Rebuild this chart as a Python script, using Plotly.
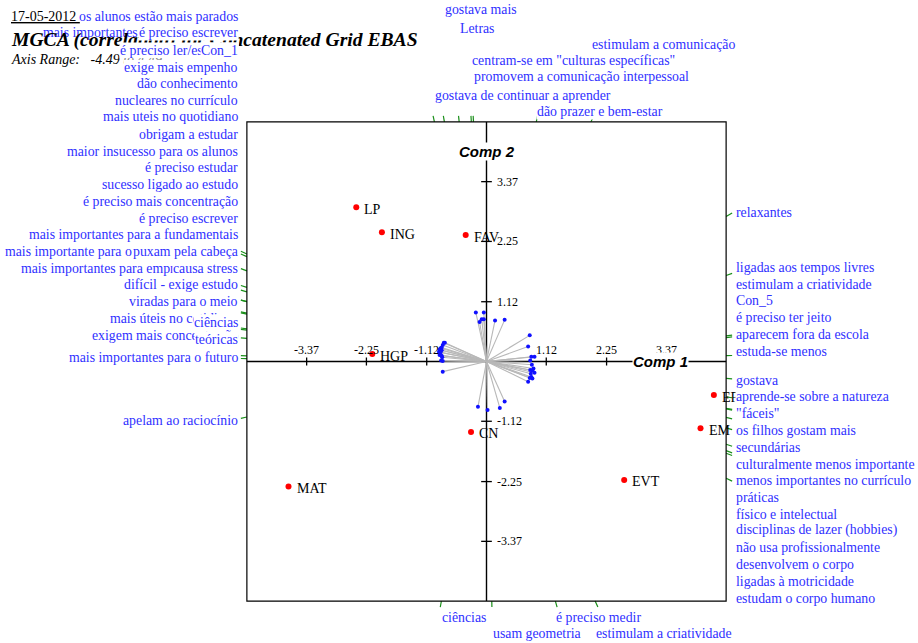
import plotly.graph_objects as go

# ---------------- data ----------------
element_names = ["LP", "ING", "FAV", "HGP", "CN", "MAT", "EVT", "EF", "EM"]
element_x = [-2.44, -1.96, -0.39, -2.14, -0.29, -3.71, 2.58, 4.26, 4.01]
element_y = [2.89, 2.42, 2.37, 0.14, -1.32, -2.34, -2.22, -0.63, -1.25]

# construct loadings (top group, bottom group, left group, right group)
top_x = [-0.20, -0.13, -0.09, -0.05, -0.05, 0.16, 0.34]
top_y = [0.92, 0.74, 0.79, 0.79, 0.92, 0.77, 0.78]
top_labels = ["gostava de continuar a aprender", "gostava mais", "Letras",
              "centram-se em \"culturas específicas\"", "promovem a comunicação interpessoal",
              "dão prazer e bem-estar", "estimulam a comunicação"]

bottom_x = [-0.16, 0.02, 0.25, 0.34]
bottom_y = [-0.85, -0.91, -0.87, -0.75]
bottom_labels = ["ciências", "usam geometria", "é preciso medir", "estimulam a criatividade"]

left_x = [-0.78, -0.80, -0.82, -0.84, -0.86, -0.88, -0.84, -0.89, -0.86, -0.88, -0.84, -0.83, -0.85, -0.82, -0.82]
left_y = [0.35, 0.35, 0.31, 0.26, 0.25, 0.22, 0.21, 0.18, 0.17, 0.12, 0.11, 0.08, 0.02, 0.01, -0.19]

right_x = [0.81, 0.78, 0.84, 0.90, 0.82, 0.85, 0.88, 0.82, 0.86, 0.90, 0.83, 0.84, 0.86, 0.81, 0.78]
right_y = [0.49, 0.28, 0.09, 0.09, 0.02, -0.06, -0.13, -0.16, -0.17, -0.21, -0.23, -0.29, -0.32, -0.31, -0.38]

left_labels = ["os alunos estão mais parados", "mais importantes para a vida futura",
               "é preciso escrever", "é preciso ler/escrever", "Con_1", "exige mais empenho",
               "dão conhecimento", "nucleares no currículo", "mais uteis no quotidiano",
               "obrigam a estudar", "maior insucesso para os alunos", "é preciso estudar",
               "sucesso ligado ao estudo", "é preciso mais concentração", "é preciso escrever",
               "mais importantes para a sua formação", "fundamentais",
               "mais importante para o futuro profissional", "puxam pela cabeça",
               "mais importantes para empregabilidade", "causa stress", "difícil - exige estudo",
               "viradas para o meio", "mais úteis no cotidiano", "ciências",
               "exigem mais concentração", "teóricas", "mais importantes para o futuro",
               "apelam ao raciocínio"]

right_labels = ["relaxantes", "ligadas aos tempos livres", "estimulam a criatividade", "Con_5",
                "é preciso ter jeito", "aparecem fora da escola", "estuda-se menos", "gostava",
                "aprende-se sobre a natureza", "\"fáceis\"", "os filhos gostam mais", "secundárias",
                "culturalmente menos importante", "menos importantes no currículo", "práticas",
                "físico e intelectual", "disciplinas de lazer (hobbies)", "não usa profissionalmente",
                "desenvolvem o corpo", "ligadas à motricidade", "estudam o corpo humano"]

axis_ticks = [-3.37, -2.25, -1.12, 1.12, 2.25, 3.37]
axis_tick_labels = ["-3.37", "-2.25", "-1.12", "1.12", "2.25", "3.37"]
axis_limit = 4.49

title_text = "MGCA (correlation) for Concatenated Grid EBAS"
range_text = "Axis Range:   -4.49 to 4.49"
date_text = "17-05-2012"

# ---------------- layout (page-pixel rows of the stacked labels) ----------------
top_rows = [95, 10, 28, 61, 77, 111, 44]
bottom_rows = [617, 633, 617, 633]
left_rows = [17, 33, 33, 50, 50, 67, 84, 101, 117, 134, 151, 167, 184, 201, 218, 234, 234,
             251, 251, 268, 268, 284, 301, 318, 322, 335, 339, 357, 420]
right_rows = [212, 267, 284, 300, 317, 334, 351, 380, 396, 413, 430, 447, 464, 480, 497,
              514, 530, 547, 564, 581, 598]

FW, FH = 918, 643            # figure size
ML, MT = 233, 108
PW = PH = 507
MR = FW - ML - PW
MB = FH - MT - PH
R = 4.75


def px(xp):
    return (xp - ML) / PW


def py(yp):
    return (FH - MB - yp) / PH


SERIF = "Liberation Serif"
SANS = "Liberation Sans"
BLUE = "#3030ff"
GREEN = "#1a8f1a"

cx = top_x + bottom_x + left_x + right_x
cy = top_y + bottom_y + left_y + right_y

fig = go.Figure()

# axes through the origin
fig.add_trace(go.Scatter(x=[-axis_limit, axis_limit, None, 0, 0],
                         y=[0, 0, None, -axis_limit, axis_limit],
                         mode="lines", line=dict(color="black", width=1.4),
                         hoverinfo="skip"))
# tick marks
tx, ty = [], []
for t in axis_ticks:
    tx += [t, t, None, -0.1, 0.1, None]
    ty += [-0.075, 0.075, None, t, t, None]
fig.add_trace(go.Scatter(x=tx, y=ty, mode="lines", line=dict(color="black", width=1.3),
                         hoverinfo="skip"))

# grey lines from origin to construct points
lx, ly = [], []
for a, b in zip(cx, cy):
    lx += [0, a, None]
    ly += [0, b, None]
fig.add_trace(go.Scatter(x=lx, y=ly, mode="lines", line=dict(color="#b8b8b8", width=1.1),
                         hoverinfo="skip"))

# green direction marks on the frame
gx, gy = [], []
for a, b in zip(cx, cy):
    t = axis_limit / max(abs(a), abs(b))
    gx += [a * t, a * t * 1.025, None]
    gy += [b * t, b * t * 1.025, None]
fig.add_trace(go.Scatter(x=gx, y=gy, mode="lines", line=dict(color=GREEN, width=1.2),
                         hoverinfo="skip"))

# construct points
fig.add_trace(go.Scatter(x=cx, y=cy, mode="markers",
                         marker=dict(color="#1010ff", size=4), hoverinfo="skip"))
# element points
fig.add_trace(go.Scatter(x=element_x, y=element_y, mode="markers",
                         marker=dict(color="#ff0000", size=6), hoverinfo="skip"))

# frame
fig.add_shape(type="rect", xref="x", yref="y", x0=-axis_limit, x1=axis_limit,
              y0=-axis_limit, y1=axis_limit, line=dict(color="black", width=1.2))

ann = []


def blue_label(text, x, y, xref="paper", xanchor="left"):
    ann.append(dict(text=text, x=x, y=y, xref=xref, yref="paper", xanchor=xanchor,
                    yanchor="middle", showarrow=False, bgcolor="white", borderpad=0,
                    font=dict(family=SERIF, size=13.8, color=BLUE)))


# first two left labels sit below the header text
for i in range(2):
    blue_label(left_labels[i], px(238.5), py(left_rows[i]), xanchor="right")

# header texts
ann.append(dict(text="<b><i>" + title_text + "</i></b>", x=px(9), y=py(40), xref="paper",
                yref="paper", xanchor="left", yanchor="middle", showarrow=False,
                font=dict(family=SERIF, size=19.6, color="black")))
ann.append(dict(text="<i>" + range_text + "</i>", x=px(9), y=py(60), xref="paper",
                yref="paper", xanchor="left", yanchor="middle", showarrow=False,
                font=dict(family=SERIF, size=14, color="black")))
ann.append(dict(text="<u>" + date_text + " </u>", x=px(9), y=py(17), xref="paper",
                yref="paper", xanchor="left", yanchor="middle", showarrow=False,
                font=dict(family=SERIF, size=14, color="black")))

# element labels
for n, a, b in zip(element_names, element_x, element_y):
    ann.append(dict(text=n, x=a, y=b, xref="x", yref="y", xanchor="left", yanchor="middle",
                    xshift=6, yshift=-2, showarrow=False,
                    font=dict(family=SERIF, size=14, color="black")))

# tick labels
for t, lab in zip(axis_ticks, axis_tick_labels):
    ann.append(dict(text=lab, x=t, y=0, xref="x", yref="y", xanchor="center",
                    yanchor="bottom", yshift=3, showarrow=False,
                    font=dict(family=SERIF, size=12, color="black")))
    ann.append(dict(text=lab, x=0, y=t, xref="x", yref="y", xanchor="left",
                    yanchor="middle", xshift=8, showarrow=False,
                    font=dict(family=SERIF, size=12, color="black")))

# component names
ann.append(dict(text="<b><i>Comp 1</i></b>", x=3.26, y=0, xref="x", yref="y",
                xanchor="center", yanchor="middle", showarrow=False, bgcolor="white",
                borderpad=0, font=dict(family=SANS, size=15, color="black")))
ann.append(dict(text="<b><i>Comp 2</i></b>", x=0, y=3.94, xref="x", yref="y",
                xanchor="center", yanchor="middle", showarrow=False, bgcolor="white",
                borderpad=0, font=dict(family=SANS, size=15, color="black")))

# remaining left labels
for i in range(2, len(left_labels)):
    blue_label(left_labels[i], px(238.5), py(left_rows[i]), xanchor="right")

# right labels
for lab, r in zip(right_labels, right_rows):
    blue_label(lab, px(735), py(r), xanchor="left")

# top and bottom labels start at the frame mark of their construct
for lab, r, a, b in zip(top_labels, top_rows, top_x, top_y):
    blue_label(lab, a * axis_limit / b, py(r), xref="x", xanchor="left")
for lab, r, a, b in zip(bottom_labels, bottom_rows, bottom_x, bottom_y):
    blue_label(lab, -a * axis_limit / b, py(r), xref="x", xanchor="left")

fig.update_layout(
    width=FW, height=FH,
    margin=dict(l=ML, r=MR, t=MT, b=MB),
    paper_bgcolor="white", plot_bgcolor="white",
    showlegend=False,
    hovermode=False,
    xaxis=dict(range=[-R, R], visible=False, fixedrange=True),
    yaxis=dict(range=[-R, R], visible=False, fixedrange=True),
    annotations=ann,
)

fig.write_html("out.html", config={"displayModeBar": False},
               post_script="document.body.style.margin='0';document.body.style.overflow='hidden';")
